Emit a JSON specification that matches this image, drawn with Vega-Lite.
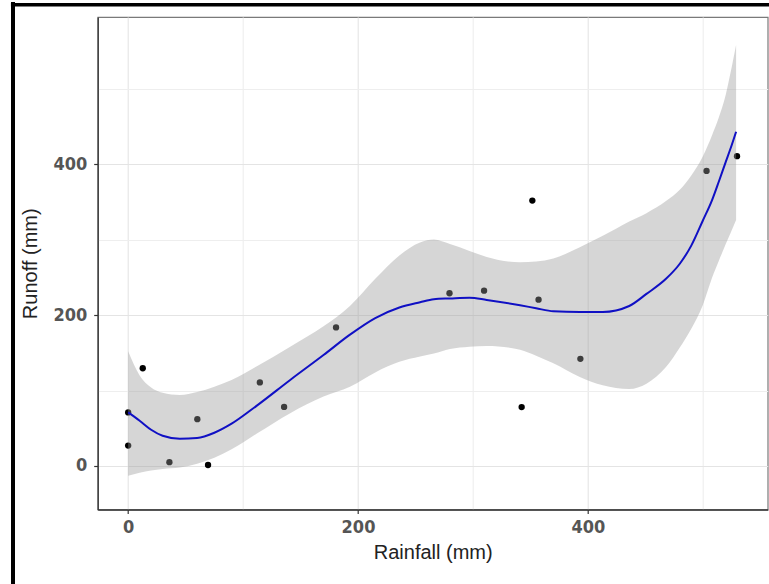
{
  "$schema": "https://vega.github.io/schema/vega-lite/v6.json",
  "width": 670,
  "height": 492.5,
  "autosize": {"type": "none"},
  "padding": {"left": 97.7, "top": 17, "right": 1.3, "bottom": 74.5},
  "background": "white",
  "config": {
    "view": {"stroke": "#7a7a7a", "strokeWidth": 1.2},
    "axis": {
      "domainColor": "#333333",
      "domainWidth": 1.3,
      "tickSize": 4,
      "tickWidth": 1.2,
      "labelFont": "Liberation Sans Narrow, DejaVu Sans Condensed, Arial Narrow, sans-serif",
      "labelFontSize": 18,
      "labelFontWeight": "bold",
      "labelColor": "#555555",
      "titleFont": "Liberation Sans, Arial, sans-serif",
      "titleFontSize": 20,
      "titleFontWeight": "normal",
      "titleColor": "#222222"
    }
  },
  "datasets": {
    "points": [
      {"rainfall": 0, "runoff": 71},
      {"rainfall": 0, "runoff": 27},
      {"rainfall": 12.7, "runoff": 129.5},
      {"rainfall": 35.9, "runoff": 5},
      {"rainfall": 60.2, "runoff": 62},
      {"rainfall": 69.5, "runoff": 1.3},
      {"rainfall": 114.6, "runoff": 110.7},
      {"rainfall": 135.7, "runoff": 78.2},
      {"rainfall": 180.9, "runoff": 183.6},
      {"rainfall": 279.6, "runoff": 228.9},
      {"rainfall": 309.7, "runoff": 232.3},
      {"rainfall": 342.4, "runoff": 78},
      {"rainfall": 351.7, "runoff": 351.7},
      {"rainfall": 357.1, "runoff": 220.4},
      {"rainfall": 393.5, "runoff": 142},
      {"rainfall": 503.3, "runoff": 391},
      {"rainfall": 529.8, "runoff": 410.6}
    ],
    "fit": [
      {"rainfall": 0, "fit": 71, "lower": -13, "upper": 152},
      {"rainfall": 10, "fit": 60, "lower": -9, "upper": 120},
      {"rainfall": 20, "fit": 48, "lower": -6, "upper": 104},
      {"rainfall": 30, "fit": 40, "lower": -4, "upper": 97},
      {"rainfall": 45, "fit": 36, "lower": -2, "upper": 94},
      {"rainfall": 60, "fit": 37, "lower": 3, "upper": 98},
      {"rainfall": 75, "fit": 44, "lower": 11, "upper": 105},
      {"rainfall": 90, "fit": 56, "lower": 22, "upper": 114},
      {"rainfall": 112, "fit": 80, "lower": 43, "upper": 132},
      {"rainfall": 141, "fit": 114, "lower": 70, "upper": 158},
      {"rainfall": 170, "fit": 147, "lower": 92, "upper": 185},
      {"rainfall": 193, "fit": 174, "lower": 105, "upper": 212},
      {"rainfall": 215, "fit": 196, "lower": 124, "upper": 248},
      {"rainfall": 236, "fit": 210, "lower": 138, "upper": 279},
      {"rainfall": 254, "fit": 217, "lower": 145, "upper": 296},
      {"rainfall": 266, "fit": 221, "lower": 149, "upper": 300},
      {"rainfall": 280, "fit": 222, "lower": 155, "upper": 294},
      {"rainfall": 297, "fit": 223, "lower": 158, "upper": 285},
      {"rainfall": 312, "fit": 220, "lower": 159, "upper": 277},
      {"rainfall": 341, "fit": 213, "lower": 154, "upper": 270},
      {"rainfall": 355, "fit": 209, "lower": 146, "upper": 271},
      {"rainfall": 370, "fit": 205, "lower": 136, "upper": 275},
      {"rainfall": 393, "fit": 204, "lower": 118, "upper": 290},
      {"rainfall": 413, "fit": 204, "lower": 107, "upper": 305},
      {"rainfall": 436, "fit": 212, "lower": 102, "upper": 324},
      {"rainfall": 451, "fit": 228, "lower": 109, "upper": 335},
      {"rainfall": 468, "fit": 248, "lower": 131, "upper": 351},
      {"rainfall": 480, "fit": 268, "lower": 157, "upper": 366},
      {"rainfall": 490, "fit": 292, "lower": 182, "upper": 385},
      {"rainfall": 500, "fit": 325, "lower": 213, "upper": 410},
      {"rainfall": 508, "fit": 352, "lower": 249, "upper": 438},
      {"rainfall": 514, "fit": 377, "lower": 272, "upper": 462},
      {"rainfall": 520, "fit": 403, "lower": 294, "upper": 492},
      {"rainfall": 524, "fit": 420, "lower": 308, "upper": 520},
      {"rainfall": 529, "fit": 443, "lower": 326, "upper": 558}
    ],
    "frame": [{}]
  },
  "layer": [
    {
      "data": {"name": "points"},
      "mark": {"type": "point", "filled": true, "size": 40, "color": "black", "opacity": 1},
      "encoding": {
        "x": {
          "field": "rainfall", "type": "quantitative", "title": "Rainfall (mm)",
          "scale": {"domain": [-26.5, 556.5], "nice": false, "zero": false},
          "axis": {
            "values": [0, 100, 200, 300, 400, 500],
            "labelExpr": "datum.value % 200 === 0 ? datum.label : ''",
            "tickColor": {"condition": {"test": "datum.value % 200 === 0", "value": "#333333"}, "value": "transparent"},
            "gridColor": {"condition": {"test": "datum.value % 200 === 0", "value": "#e4e4e4"}, "value": "#eeeeee"},
            "gridWidth": 1.1,
            "labelPadding": 5,
            "titlePadding": 6
          }
        },
        "y": {
          "field": "runoff", "type": "quantitative", "title": "Runoff (mm)",
          "scale": {"domain": [-57.7, 595], "nice": false, "zero": false},
          "axis": {
            "values": [0, 100, 200, 300, 400, 500],
            "labelExpr": "datum.value % 200 === 0 ? datum.label : ''",
            "tickColor": {"condition": {"test": "datum.value % 200 === 0", "value": "#333333"}, "value": "transparent"},
            "gridColor": {"condition": {"test": "datum.value % 200 === 0", "value": "#e4e4e4"}, "value": "#eeeeee"},
            "gridWidth": 1.1,
            "labelPadding": 7,
            "titlePadding": 12
          }
        }
      }
    },
    {
      "data": {"name": "fit"},
      "mark": {"type": "area", "color": "#999999", "opacity": 0.4, "interpolate": "monotone"},
      "encoding": {
        "x": {"field": "rainfall", "type": "quantitative", "title": "Rainfall (mm)"},
        "y": {"field": "lower", "type": "quantitative", "title": "Runoff (mm)"},
        "y2": {"field": "upper"}
      }
    },
    {
      "data": {"name": "fit"},
      "mark": {"type": "line", "color": "#1010c4", "strokeWidth": 2, "interpolate": "monotone"},
      "encoding": {
        "x": {"field": "rainfall", "type": "quantitative", "title": "Rainfall (mm)"},
        "y": {"field": "fit", "type": "quantitative", "title": "Runoff (mm)"}
      }
    },
    {
      "data": {"name": "frame"},
      "mark": {"type": "rule", "color": "black", "strokeWidth": 4, "clip": false},
      "encoding": {
        "x": {"datum": -100.2, "type": "quantitative"},
        "y": {"datum": 615, "type": "quantitative"},
        "y2": {"datum": -170}
      }
    },
    {
      "data": {"name": "frame"},
      "mark": {"type": "rule", "color": "black", "strokeWidth": 3.5, "clip": false},
      "encoding": {
        "x": {"datum": -102, "type": "quantitative"},
        "x2": {"datum": 570},
        "y": {"datum": 611.2, "type": "quantitative"}
      }
    }
  ]
}
